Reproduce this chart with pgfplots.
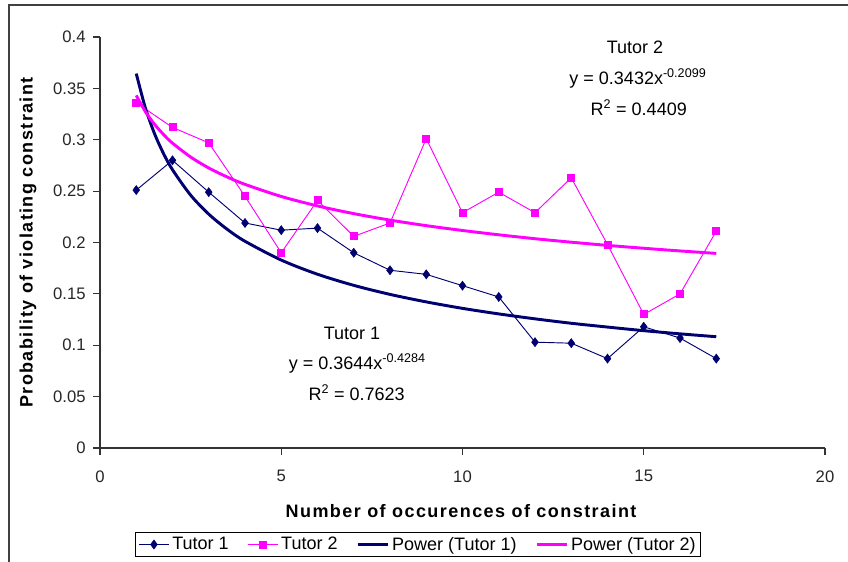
\documentclass[border=0pt]{standalone}
\usepackage{fontspec}
\setmainfont{Liberation Sans}
\newfontfamily\titlefont[LetterSpace=8]{Liberation Sans}
\usepackage{pgfplots}
\pgfplotsset{compat=1.18}
\definecolor{navy}{HTML}{000070}
\definecolor{mag}{HTML}{FF00FF}
\pgfplotstableread{
x y
1 0.251
2 0.280
3 0.249
4 0.219
5 0.212
6 0.214
7 0.190
8 0.173
9 0.169
10 0.158
11 0.147
12 0.103
13 0.102
14 0.087
15 0.118
16 0.107
17 0.087
}\tutorone
\pgfplotstableread{
x y
1 0.336
2 0.312
3 0.297
4 0.245
5 0.190
6 0.241
7 0.206
8 0.219
9 0.301
10 0.229
11 0.249
12 0.229
13 0.263
14 0.198
15 0.130
16 0.150
17 0.211
}\tutortwo
\pgfplotstableread{
x y
1 0.3644
1.25 0.3312
1.5 0.3063
1.75 0.2867
2 0.2708
2.5 0.2461
3 0.2276
3.5 0.2131
4 0.2012
5 0.1829
6 0.1691
7 0.1583
8 0.1495
9 0.1422
10 0.1359
11 0.1305
12 0.1257
13 0.1214
14 0.1177
15 0.1142
16 0.1111
17 0.1083
}\powone
\pgfplotstableread{
x y
1 0.3432
1.25 0.3275
1.5 0.3152
1.75 0.3052
2 0.2967
2.5 0.2832
3 0.2725
3.5 0.2639
4 0.2566
5 0.2448
6 0.2356
7 0.2281
8 0.2218
9 0.2164
10 0.2117
11 0.2075
12 0.2037
13 0.2003
14 0.1972
15 0.1944
16 0.1918
17 0.1894
}\powtwo
\begin{document}
\begin{tikzpicture}
\useasboundingbox (0,0) rectangle (636pt,420.75pt);
\draw[line width=1.3pt, black!75] (6.75pt,-10pt) -- (6.75pt,417pt) -- (650pt,417pt);
\begin{axis}[
  at={(75pt,84.75pt)}, anchor=south west,
  scale only axis, width=543.75pt, height=308.25pt,
  xmin=0, xmax=20, ymin=0, ymax=0.4,
  axis x line=bottom, axis y line=left,
  axis line style={-, line width=0.9pt, black!80},
  tick align=outside, major tick length=5.25pt,
  tick style={line width=0.9pt, black!80},
  xtick={0,5,10,15,20}, xticklabels={0,5,10,15,20},
  ytick={0,0.05,0.1,0.15,0.2,0.25,0.3,0.35,0.4},
  yticklabels={0,0.05,0.1,0.15,0.2,0.25,0.3,0.35,0.4},
  ticklabel style={font=\fontsize{12.5}{14}\selectfont, text=black!85},
  xticklabel style={yshift=-8pt},
  yticklabel style={xshift=-2pt},
  xlabel={\titlefont\bfseries Number of occurences of constraint},
  ylabel={\titlefont\bfseries Probability of violating constraint},
  label style={font=\fontsize{13.5}{15}\selectfont},
  xlabel style={at={(axis description cs:0.498,-0.1533)}, anchor=center},
  ylabel style={at={(axis description cs:-0.0993,0.50)}, anchor=center},
  clip=false,
  legend columns=4,
  legend style={at={(axis description cs:0.439,-0.2348)}, anchor=center,
    draw=black, line width=0.8pt, font=\fontsize{13.5}{15}\selectfont,
    inner xsep=2pt, inner ysep=1.5pt,
    /tikz/every even column/.append style={column sep=12pt}},
  legend image code/.code={\draw[mark repeat=2,mark phase=2,#1] plot coordinates {(0cm,0cm) (0.4cm,0cm) (0.8cm,0cm)};},
]
\addplot[navy, line width=0.7pt, mark=diamond*, mark size=3.4pt, mark options={solid, line width=0.4pt}] table[x=x,y=y] {\tutorone};
\addlegendentry{Tutor 1}
\addplot[mag, line width=0.7pt, mark=square*, mark size=2.6pt, mark options={solid}] table[x=x,y=y] {\tutortwo};
\addlegendentry{Tutor 2}
\addplot[navy, line width=2.2pt, no marks, smooth] table[x=x,y=y] {\powone};
\addlegendentry{Power (Tutor 1)}
\addplot[mag, line width=2.2pt, no marks, smooth] table[x=x,y=y] {\powtwo};
\addlegendentry{Power (Tutor 2)}
\node[font=\fontsize{13.5}{15}\selectfont] at (axis cs:6.95,0.1119) {Tutor 1};
\node[font=\fontsize{13.5}{15}\selectfont] at (axis cs:7.10,0.0827) {y = 0.3644x\textsuperscript{-0.4284}};
\node[font=\fontsize{13.5}{15}\selectfont] at (axis cs:7.08,0.0535) {R\textsuperscript{2} = 0.7623};
\node[font=\fontsize{13.5}{15}\selectfont] at (axis cs:14.76,0.3903) {Tutor 2};
\node[font=\fontsize{13.5}{15}\selectfont] at (axis cs:14.84,0.3601) {y = 0.3432x\textsuperscript{-0.2099}};
\node[font=\fontsize{13.5}{15}\selectfont] at (axis cs:14.86,0.3309) {R\textsuperscript{2} = 0.4409};
\end{axis}
\end{tikzpicture}
\end{document}
